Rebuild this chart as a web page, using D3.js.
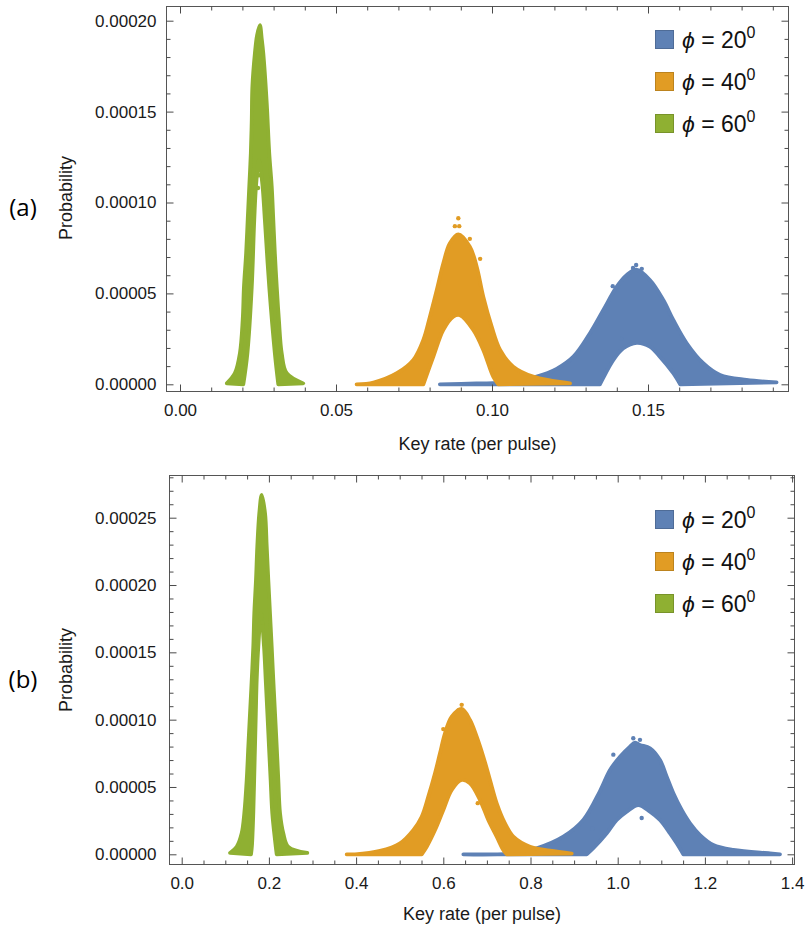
<!DOCTYPE html>
<html>
<head>
<meta charset="utf-8">
<script src="https://cdn.jsdelivr.net/npm/d3@7"></script>
<style>
  body { margin: 0; background: #fff; }
  svg { display: block; font-family: "Liberation Sans", Arial, sans-serif; }
</style>
</head>
<body>
<div id="chart"></div>
<script>
// legend entries (phi in degrees) and Mathematica default colours
var angles = [20, 40, 60];
var seriesColors = ["#5e81b5", "#e19c24", "#8fb032"];

// ---- panel (a) ----
var xTicksA = [0, 0.05, 0.10, 0.15];
var yTicksA = [0, 0.00005, 0.00010, 0.00015, 0.00020];

// each cloud: outer envelope (left -> right) and inner gap (left -> right), [key rate, probability]
var blueUpperA = [[0.0833, 0], [0.0950, 0.0000005], [0.1050, 0.0000010], [0.1143, 0.0000042], [0.1207, 0.0000085],
  [0.1261, 0.0000152], [0.1314, 0.0000281], [0.1357, 0.0000409], [0.1400, 0.0000537], [0.1432, 0.0000601],
  [0.1462, 0.0000630], [0.1506, 0.0000574], [0.1549, 0.0000464], [0.1581, 0.0000354], [0.1624, 0.0000226],
  [0.1677, 0.0000116], [0.1731, 0.0000051], [0.1816, 0.0000024], [0.1912, 0.0000011]];
var blueHoleA = [[0.1346, 0], [0.1389, 0.0000134], [0.1421, 0.0000198], [0.1464, 0.0000228], [0.1506, 0.0000207],
  [0.1538, 0.0000152], [0.1581, 0.0000061], [0.1603, 0]];
var blueStrayA = [[0.1462, 0.0000656], [0.1452, 0.0000640], [0.1387, 0.0000540], [0.1480, 0.0000635], [0.1414, 0.0000250]];

var orangeUpperA = [[0.0566, 0], [0.0620, 0.0000010], [0.0695, 0.0000061], [0.0748, 0.0000134], [0.0780, 0.0000244],
  [0.0801, 0.0000372], [0.0823, 0.0000519], [0.0844, 0.0000666], [0.0865, 0.0000776], [0.0892, 0.0000825],
  [0.0929, 0.0000757], [0.0951, 0.0000647], [0.0972, 0.0000482], [0.0999, 0.0000317], [0.1026, 0.0000189],
  [0.1068, 0.0000097], [0.1132, 0.0000042], [0.1250, 0.0000005]];
var orangeHoleA = [[0.0780, 0], [0.0812, 0.0000152], [0.0844, 0.0000299], [0.0876, 0.0000372], [0.0897, 0.0000380],
  [0.0940, 0.0000299], [0.0972, 0.0000189], [0.1004, 0.0000042], [0.1020, 0]];
var orangeStrayA = [[0.0892, 0.0000913], [0.0881, 0.0000870], [0.0895, 0.0000870], [0.0929, 0.0000800], [0.0962, 0.0000690]];

var greenUpperA = [[0.0150, 0.0000005], [0.0176, 0.0000061], [0.0192, 0.0000171], [0.0201, 0.0000354], [0.0205, 0.0000537],
  [0.0212, 0.0000721], [0.0217, 0.0000904], [0.0222, 0.0001087], [0.0227, 0.0001271], [0.0230, 0.0001454],
  [0.0232, 0.0001637], [0.0240, 0.0001820], [0.0247, 0.0001920], [0.0256, 0.0001976], [0.0262, 0.0001900],
  [0.0267, 0.0001820], [0.0278, 0.0001546], [0.0286, 0.0001271], [0.0294, 0.0001087], [0.0299, 0.0000904],
  [0.0304, 0.0000721], [0.0310, 0.0000537], [0.0317, 0.0000354], [0.0326, 0.0000171], [0.0342, 0.0000061],
  [0.0395, 0.0000005]];
var greenHoleA = [[0.0203, 0], [0.0216, 0.0000171], [0.0230, 0.0000537], [0.0238, 0.0000904], [0.0244, 0.0001100],
  [0.0253, 0.0001234], [0.0264, 0.0001100], [0.0272, 0.0000904], [0.0286, 0.0000537], [0.0304, 0.0000171],
  [0.0315, 0]];
var greenStrayA = [[0.0253, 0.0001150], [0.0250, 0.0001080]];

// ---- panel (b) ----
var xTicksB = [0, 0.2, 0.4, 0.6, 0.8, 1.0, 1.2, 1.4];
var yTicksB = [0, 0.00005, 0.00010, 0.00015, 0.00020, 0.00025];

var blueUpperB = [[0.6460, 0], [0.7500, 0.0000005], [0.8142, 0.0000045], [0.8752, 0.0000131], [0.9211, 0.0000255],
  [0.9594, 0.0000470], [0.9824, 0.0000626], [1.0053, 0.0000725], [1.0282, 0.0000800], [1.0400, 0.0000830],
  [1.0511, 0.0000812], [1.0741, 0.0000788], [1.0970, 0.0000700], [1.1124, 0.0000577], [1.1277, 0.0000453],
  [1.1468, 0.0000329], [1.1659, 0.0000230], [1.1888, 0.0000143], [1.2193, 0.0000069], [1.2651, 0.0000032],
  [1.3493, 0.0000007], [1.3722, 0]];
var blueHoleB = [[0.9289, 0], [0.9440, 0.0000045], [0.9748, 0.0000156], [0.9977, 0.0000255], [1.0206, 0.0000317],
  [1.0473, 0.0000366], [1.0741, 0.0000317], [1.0970, 0.0000255], [1.1200, 0.0000156], [1.1353, 0.0000082],
  [1.1505, 0]];
var blueStrayB = [[1.0357, 0.0000862], [1.0511, 0.0000850], [0.9900, 0.0000740], [0.9420, 0.0000190], [1.0550, 0.0000270]];

var orangeUpperB = [[0.3784, 0], [0.3975, 0], [0.4548, 0.0000025], [0.5007, 0.0000082], [0.5312, 0.0000180],
  [0.5505, 0.0000279], [0.5656, 0.0000428], [0.5810, 0.0000602], [0.5924, 0.0000750], [0.6039, 0.0000899],
  [0.6193, 0.0001022], [0.6422, 0.0001080], [0.6612, 0.0000998], [0.6766, 0.0000874], [0.6918, 0.0000725],
  [0.7071, 0.0000552], [0.7225, 0.0000379], [0.7415, 0.0000230], [0.7606, 0.0000131], [0.7989, 0.0000056],
  [0.8447, 0.0000027], [0.8945, 0.0000005]];
var orangeHoleB = [[0.5505, 0], [0.5619, 0.0000056], [0.5810, 0.0000180], [0.6000, 0.0000329], [0.6193, 0.0000478],
  [0.6422, 0.0000552], [0.6612, 0.0000527], [0.6842, 0.0000403], [0.7032, 0.0000255], [0.7225, 0.0000131],
  [0.7376, 0.0000032], [0.7454, 0]];
var orangeStrayB = [[0.6422, 0.0001110], [0.6350, 0.0001070], [0.6000, 0.0000930], [0.6790, 0.0000380]];

var greenUpperB = [[0.1108, 0.0000010], [0.1261, 0.0000056], [0.1376, 0.0000156], [0.1436, 0.0000305], [0.1491, 0.0000552],
  [0.1528, 0.0000800], [0.1567, 0.0001048], [0.1606, 0.0001295], [0.1642, 0.0001542], [0.1665, 0.0001790],
  [0.1704, 0.0002038], [0.1734, 0.0002285], [0.1780, 0.0002533], [0.1835, 0.0002670], [0.1911, 0.0002533],
  [0.1950, 0.0002285], [0.1986, 0.0002038], [0.2025, 0.0001790], [0.2064, 0.0001542], [0.2101, 0.0001295],
  [0.2140, 0.0001048], [0.2179, 0.0000800], [0.2216, 0.0000552], [0.2255, 0.0000305], [0.2330, 0.0000156],
  [0.2445, 0.0000056], [0.2880, 0.0000010]];
var greenHoleB = [[0.1590, 0], [0.1610, 0.0000060], [0.1642, 0.0000305], [0.1662, 0.0000552], [0.1681, 0.0000800],
  [0.1700, 0.0001048], [0.1720, 0.0001295], [0.1757, 0.0001542], [0.1819, 0.0001790], [0.1888, 0.0001542],
  [0.1927, 0.0001295], [0.1965, 0.0001048], [0.2002, 0.0000800], [0.2040, 0.0000552], [0.2078, 0.0000305],
  [0.2140, 0.0000106], [0.2179, 0]];
var greenStrayB = [[0.1800, 0.0001740], [0.1850, 0.0001720]];

var W = 811, H = 933;
var svg = d3.select("#chart").append("svg").attr("width", W).attr("height", H);
svg.append("rect").attr("width", W).attr("height", H).attr("fill", "#fff");

var panels = [
  { tag: "(a)", tagY: 216,
    frame: { left: 166.5, right: 788.5, top: 6.5, bottom: 391.5 },
    xRef: [0, 0.15], xPix: [180, 648], yRef: [0, 0.0002], yPix: [384.3, 20.7],
    xTicks: xTicksA, yTicks: yTicksA, xFmt: ".2f", xMinor: 0.01, yLabelPad: 10,
    clouds: [[blueUpperA, blueHoleA, blueStrayA], [orangeUpperA, orangeHoleA, orangeStrayA],
             [greenUpperA, greenHoleA, greenStrayA]],
    legendY: 40, titleY: 450, probY: 198 },
  { tag: "(b)", tagY: 688,
    frame: { left: 169.5, right: 794.5, top: 475.5, bottom: 864.5 },
    xRef: [0, 1.0], xPix: [181.7, 617.7], yRef: [0, 0.00025], yPix: [854.3, 517.7],
    xTicks: xTicksB, yTicks: yTicksB, xFmt: ".1f", xMinor: 0.05, yLabelPad: 13,
    clouds: [[blueUpperB, blueHoleB, blueStrayB], [orangeUpperB, orangeHoleB, orangeStrayB],
             [greenUpperB, greenHoleB, greenStrayB]],
    legendY: 520, titleY: 920, probY: 670 }
];

function styleAxis(g, withText) {
  g.select(".domain").remove();
  g.selectAll(".tick line").attr("stroke", "#4a4a4a");
  g.attr("font-family", null).attr("font-size", 17);
  if (withText) g.selectAll(".tick text").attr("fill", "#1a1a1a");
}

panels.forEach(function(p) {
  var g = svg.append("g");
  var f = p.frame;
  var x = d3.scaleLinear().domain(p.xRef).range(p.xPix);
  var y = d3.scaleLinear().domain(p.yRef).range(p.yPix);

  // point clouds drawn as smooth bands: outer envelope, then the gap traced back
  var smooth = d3.line().x(function(d) { return x(d[0]); }).y(function(d) { return y(d[1]); })
    .curve(d3.curveCatmullRom.alpha(0.5));
  p.clouds.forEach(function(c, i) {
    var d = smooth(c[0]) + "L" + smooth(c[1].slice().reverse()).slice(1) + "Z";
    g.append("path").attr("d", d)
      .attr("fill", seriesColors[i]).attr("stroke", seriesColors[i])
      .attr("stroke-width", 3.8).attr("stroke-linejoin", "round");
    g.selectAll(null).data(c[2]).enter().append("circle")
      .attr("cx", function(v) { return x(v[0]); }).attr("cy", function(v) { return y(v[1]); })
      .attr("r", 2.2).attr("fill", seriesColors[i]);
  });

  // frame
  g.append("rect").attr("x", f.left).attr("y", f.top)
    .attr("width", f.right - f.left).attr("height", f.bottom - f.top)
    .attr("fill", "none").attr("stroke", "#555").attr("stroke-width", 1);

  var xLo = x.invert(f.left), xHi = x.invert(f.right);
  var yLo = y.invert(f.bottom), yHi = y.invert(f.top);
  var xMinor = d3.range(Math.ceil(xLo / p.xMinor) * p.xMinor, xHi, p.xMinor)
    .filter(function(v) { return !p.xTicks.some(function(t) { return Math.abs(t - v) < 1e-9; }); });
  var yMinor = d3.range(Math.ceil(yLo / 0.00001) * 0.00001, yHi, 0.00001)
    .filter(function(v) { return !p.yTicks.some(function(t) { return Math.abs(t - v) < 1e-12; }); });

  // bottom / top
  var ax = g.append("g").attr("transform", "translate(0," + f.bottom + ")")
    .call(d3.axisBottom(x).tickValues(p.xTicks).tickFormat(d3.format(p.xFmt))
      .tickSizeInner(-7).tickSizeOuter(0).tickPadding(12));
  styleAxis(ax, true);
  styleAxis(g.append("g").attr("transform", "translate(0," + f.bottom + ")")
    .call(d3.axisBottom(x).tickValues(xMinor).tickFormat("").tickSizeInner(-4).tickSizeOuter(0)), false);
  styleAxis(g.append("g").attr("transform", "translate(0," + f.top + ")")
    .call(d3.axisTop(x).tickValues(p.xTicks).tickFormat("").tickSizeInner(-7).tickSizeOuter(0)), false);
  styleAxis(g.append("g").attr("transform", "translate(0," + f.top + ")")
    .call(d3.axisTop(x).tickValues(xMinor).tickFormat("").tickSizeInner(-4).tickSizeOuter(0)), false);

  // left / right
  var ay = g.append("g").attr("transform", "translate(" + f.left + ",0)")
    .call(d3.axisLeft(y).tickValues(p.yTicks).tickFormat(d3.format(".5f"))
      .tickSizeInner(-7).tickSizeOuter(0).tickPadding(p.yLabelPad));
  styleAxis(ay, true);
  styleAxis(g.append("g").attr("transform", "translate(" + f.left + ",0)")
    .call(d3.axisLeft(y).tickValues(yMinor).tickFormat("").tickSizeInner(-4).tickSizeOuter(0)), false);
  styleAxis(g.append("g").attr("transform", "translate(" + f.right + ",0)")
    .call(d3.axisRight(y).tickValues(p.yTicks).tickFormat("").tickSizeInner(-7).tickSizeOuter(0)), false);
  styleAxis(g.append("g").attr("transform", "translate(" + f.right + ",0)")
    .call(d3.axisRight(y).tickValues(yMinor).tickFormat("").tickSizeInner(-4).tickSizeOuter(0)), false);

  // axis titles
  g.append("text").attr("x", (f.left + f.right) / 2).attr("y", p.titleY)
    .attr("text-anchor", "middle").attr("font-size", 18).attr("fill", "#1a1a1a")
    .text("Key rate (per pulse)");
  g.append("text").attr("transform", "translate(72," + p.probY + ") rotate(-90)")
    .attr("text-anchor", "middle").attr("font-size", 18).attr("fill", "#1a1a1a")
    .text("Probability");

  // panel tag
  g.append("text").attr("x", 23).attr("y", p.tagY).attr("text-anchor", "middle")
    .attr("font-family", "'Open Sans', sans-serif").attr("font-size", 24).attr("fill", "#000")
    .text(p.tag);

  // legend
  var leg = g.append("g");
  angles.forEach(function(a, i) {
    var cy = p.legendY + i * 42;
    leg.append("rect").attr("x", 655.5).attr("y", cy - 9.5).attr("width", 18).attr("height", 18)
      .attr("fill", seriesColors[i]).attr("stroke", d3.color(seriesColors[i]).darker(0.5)).attr("stroke-width", 1);
    var t = leg.append("text").attr("x", 682).attr("y", cy + 8).attr("font-size", 23).attr("fill", "#111");
    t.append("tspan").attr("font-style", "italic").text("\u03D5");
    t.append("tspan").text(" = " + a);
    t.append("tspan").attr("font-size", 16).attr("dy", -10).text("0");
  });
});
</script>
</body>
</html>
